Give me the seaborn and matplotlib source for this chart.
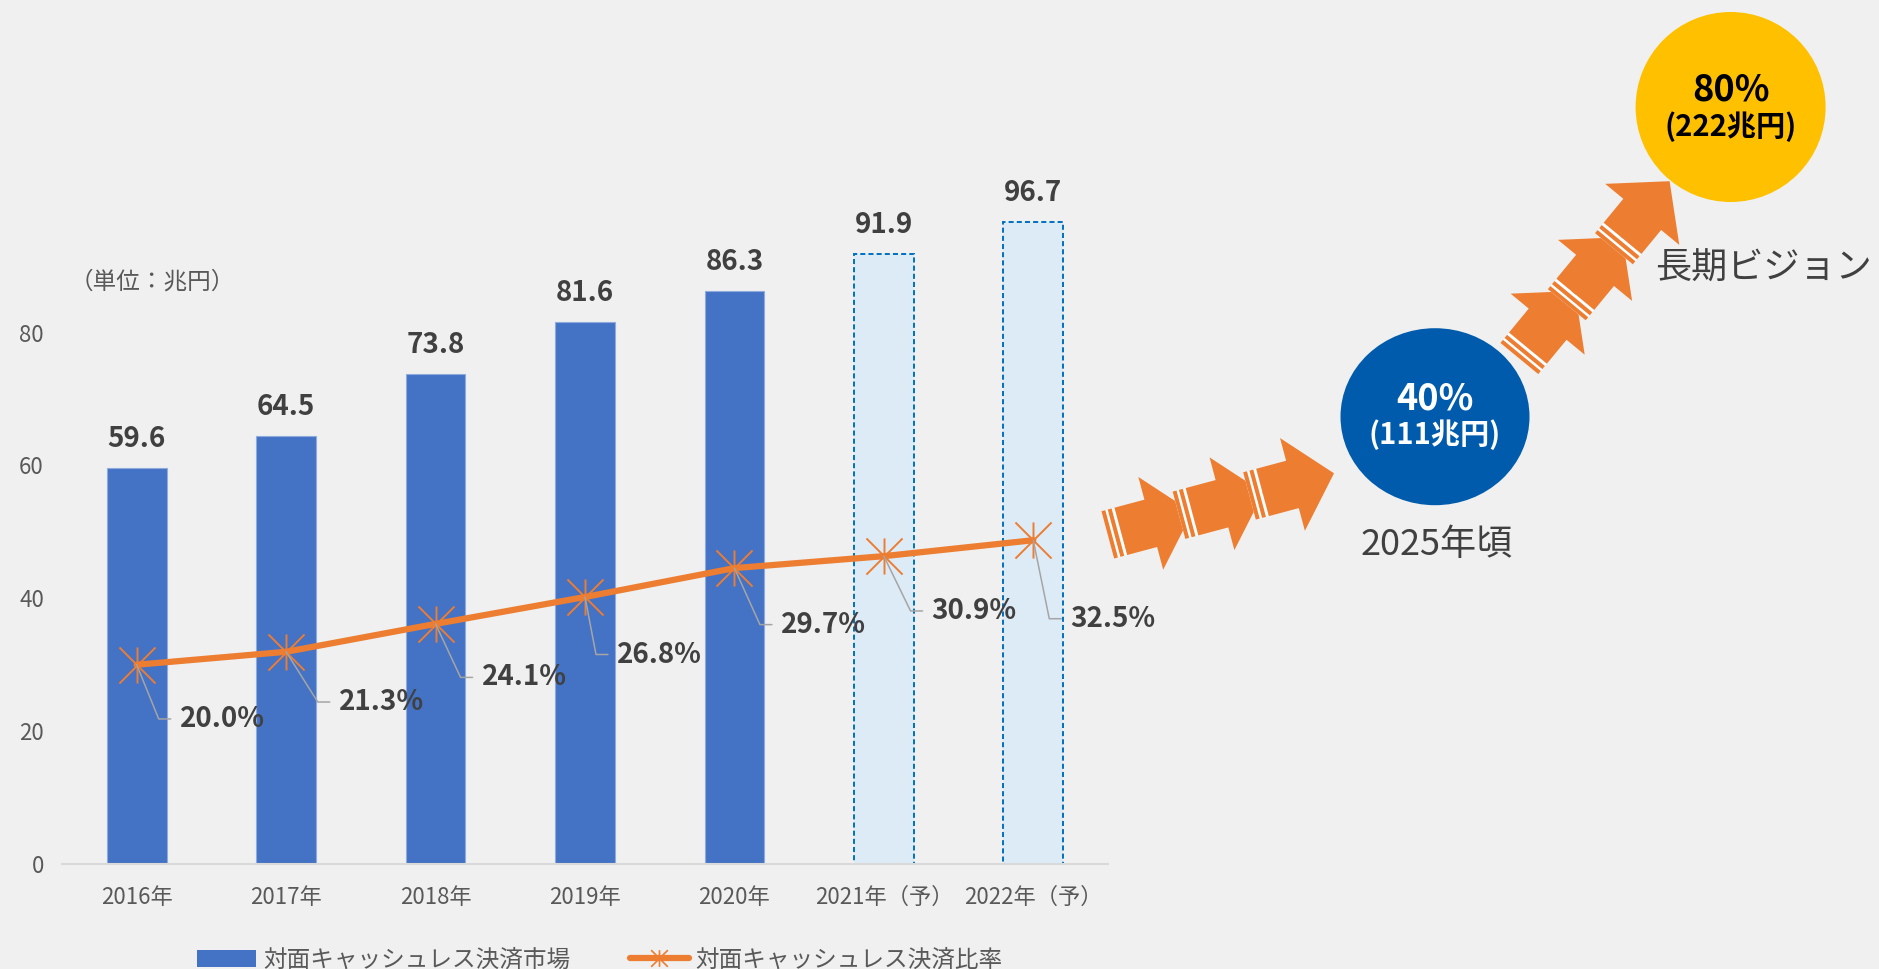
import numpy as np
import pandas as pd
import matplotlib
matplotlib.use("Agg")
import matplotlib.pyplot as plt
import seaborn as sns
from matplotlib.path import Path
from matplotlib.patches import Polygon, Ellipse, Patch
from matplotlib.lines import Line2D

# ---------------- data ----------------
years = ['2016年', '2017年', '2018年', '2019年', '2020年', '2021年（予）', '2022年（予）']
market = [59.6, 64.5, 73.8, 81.6, 86.3, 91.9, 96.7]          # 兆円
ratio = [20.0, 21.3, 24.1, 26.8, 29.7, 30.9, 32.5]           # %
forecast = [False, False, False, False, False, True, True]
y_ticks = [0, 20, 40, 60, 80]
series_names = ['対面キャッシュレス決済市場', '対面キャッシュレス決済比率']
unit_label = '（単位：兆円）'
goal_mid = ['40%', '(111兆円)', '2025年頃']
goal_long = ['80%', '(222兆円)', '長期ビジョン']

# ---------------- style ----------------
W, H = 1879, 969
BG = '#EFF0EF'
BLUE = '#4472C4'
ORANGE = '#ED7D31'
DARK = '#404040'
GREY = '#595959'

sns.set_theme(style='white')
plt.rcParams['font.family'] = ['Noto Sans CJK JP', 'DejaVu Sans']

fig = plt.figure(figsize=(W / 100, H / 100), dpi=100, facecolor=BG)
ax = fig.add_axes([62 / W, 1 - 864 / H, (1108 - 62) / W, (864 - 67) / H])
ax.set_facecolor('none')

df = pd.DataFrame({'year': years, 'market': market})
sns.barplot(data=df, x='year', y='market', ax=ax, color=BLUE, width=0.4,
            saturation=1, edgecolor='#8FAADC', linewidth=0.8)
for patch, fc in zip(ax.patches, forecast):
    if fc:
        patch.set_facecolor('#DDEBF7')
        patch.set_edgecolor('#0070C0')
        patch.set_linewidth(1.4)
        patch.set_linestyle((0, (2.6, 1.6)))

for i, v in enumerate(market):
    ax.annotate(f'{v:.1f}', xy=(i, v), xytext=(0, 21), textcoords='offset pixels',
                ha='center', va='baseline', fontsize=20, fontweight='bold', color=DARK)

ax.set_ylim(0, 120)
ax.set_yticks(y_ticks)
ax.set_xlabel('')
ax.set_ylabel('')
ax.tick_params(axis='y', length=0, pad=13, labelsize=16, labelcolor=GREY)
ax.tick_params(axis='x', length=0, pad=16, labelsize=16, labelcolor=GREY)
for s in ['top', 'right', 'left']:
    ax.spines[s].set_visible(False)
ax.spines['bottom'].set_color('#D9D9D9')
ax.spines['bottom'].set_linewidth(1.5)

# ratio line on secondary axis
star = Path([(0, -1), (0, 1), (-1, -1), (1, 1), (-1, 1), (1, -1)],
            [Path.MOVETO, Path.LINETO, Path.MOVETO, Path.LINETO, Path.MOVETO, Path.LINETO])
ax2 = ax.twinx()
sns.lineplot(x=np.arange(len(ratio)), y=ratio, ax=ax2, color=ORANGE, linewidth=4.5,
             marker=star, markersize=26, markeredgewidth=1.4,
             markeredgecolor=ORANGE, markerfacecolor='none')
ax2.set_ylim(0, 80)
ax2.set_yticks([])
ax2.set_ylabel('')
for s in ax2.spines.values():
    s.set_visible(False)
ax.set_xlim(-0.5, len(years) - 0.5)

pct_dx = [43, 52.6, 46, 32, 46.5, 47.7, 37]
pct_dy = [51.7, 47.7, 51, 55, 54, 52.3, 76]
for i, r in enumerate(ratio):
    dx, dy = pct_dx[i], pct_dy[i]
    base = dy + 10.5
    line_y = base - 8
    angB = np.degrees(np.arctan2(-line_y, dx - 21))
    ax2.annotate(f'{r:.1f}%', xy=(i, r), xytext=(dx, -base), textcoords='offset pixels',
                 ha='left', va='baseline', fontsize=20, fontweight='bold', color=DARK,
                 arrowprops=dict(arrowstyle='-', color='#A5A5A5', lw=1.1, shrinkA=6.5,
                                 shrinkB=0, patchA=None, relpos=(0, 0.5),
                                 connectionstyle=f'angle,angleA=0,angleB={angB:.2f},rad=0'))

# legend
handles = [Patch(facecolor=BLUE, edgecolor='none'),
           Line2D([], [], color=ORANGE, lw=4.5, marker=star, markersize=12,
                  markeredgewidth=1.2, markeredgecolor=ORANGE)]
fig.legend(handles, series_names, loc='center', bbox_to_anchor=(600 / W, 1 - 960 / H),
           ncol=2, frameon=False, fontsize=17, labelcolor=GREY, handlelength=2.5,
           handletextpad=0.3, columnspacing=2.5)

# ---------------- overlay (pixel coordinates) ----------------
ovl = fig.add_axes([0, 0, 1, 1], facecolor='none')
ovl.set_xlim(0, W)
ovl.set_ylim(H, 0)
ovl.axis('off')

ovl.text(70, 282, unit_label, ha='left', va='center', fontsize=17, color=GREY)


def striped_arrow(tip, angle, hl=43, hw=96, bw=49, bl=31, s1=4, g1=2.5, s2=4, g2=3):
    th = np.radians(angle)
    d = np.array([np.cos(th), -np.sin(th)])
    n = np.array([np.sin(th), np.cos(th)])
    tip = np.array(tip)

    def P(pts):
        return [tip + u * d + v * n for u, v in pts]

    b0 = -hl - bl
    tail = b0 - g2 - s2 - g1 - s1
    ovl.add_patch(Polygon(P([(tail, -bw / 2), (b0, -bw / 2), (b0, bw / 2), (tail, bw / 2)]),
                          closed=True, facecolor='white', edgecolor='none'))
    body = [(0, 0), (-hl, hw / 2), (-hl, bw / 2), (b0, bw / 2), (b0, -bw / 2),
            (-hl, -bw / 2), (-hl, -hw / 2)]
    ovl.add_patch(Polygon(P(body), closed=True, facecolor=ORANGE, edgecolor='none'))
    a = b0 - g2
    ovl.add_patch(Polygon(P([(a - s2, -bw / 2), (a, -bw / 2), (a, bw / 2), (a - s2, bw / 2)]),
                          closed=True, facecolor=ORANGE, edgecolor='none'))
    a = a - s2 - g1
    ovl.add_patch(Polygon(P([(a - s1, -bw / 2), (a, -bw / 2), (a, bw / 2), (a - s1, bw / 2)]),
                          closed=True, facecolor=ORANGE, edgecolor='none'))


for tip in [(1192.3, 512.2), (1263.5, 492.6), (1334, 473.3)]:
    striped_arrow(tip, 15)
for tip in [(1575, 291), (1622.4, 237.2), (1669.6, 181.2)]:
    striped_arrow(tip, 50.5)

ovl.add_patch(Ellipse((1435, 416.7), 189, 177, facecolor='#005BAC', edgecolor='none'))
ovl.add_patch(Ellipse((1730.6, 107), 190, 190, facecolor='#FFC000', edgecolor='none'))

ovl.text(1435, 410, goal_mid[0], ha='center', va='baseline', fontsize=26,
         fontweight='bold', color='white')
ovl.text(1435, 444, goal_mid[1], ha='center', va='baseline', fontsize=21,
         fontweight='bold', color='white')
ovl.text(1437, 555, goal_mid[2], ha='center', va='baseline', fontsize=26, color=DARK)

ovl.text(1731, 100.5, goal_long[0], ha='center', va='baseline', fontsize=26,
         fontweight='bold', color='black')
ovl.text(1731, 136, goal_long[1], ha='center', va='baseline', fontsize=21,
         fontweight='bold', color='black')
ovl.text(1655, 279, goal_long[2], ha='left', va='baseline', fontsize=26, color=DARK)

fig.savefig('out.png', dpi=100, facecolor=BG)
